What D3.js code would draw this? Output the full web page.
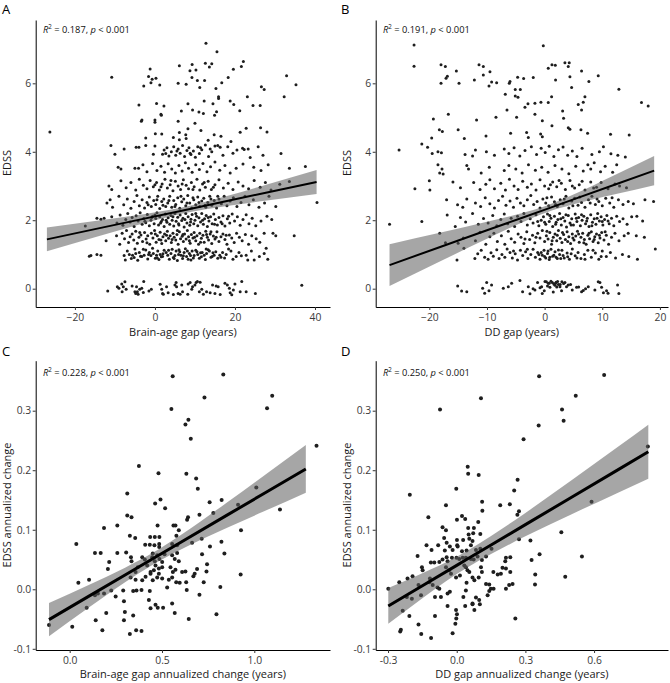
<!DOCTYPE html>
<html><head><meta charset="utf-8">
<script src="https://cdn.jsdelivr.net/npm/d3@7"></script>
<style>
html,body{margin:0;padding:0;background:#fff;}
svg{display:block;font-family:"Open Sans","Noto Sans",sans-serif;}
</style></head><body>
<svg id="chart" width="670" height="683"></svg>
<script>
// ---------- Panel A: Brain-age gap vs EDSS ----------
const pointsA = [
[-11.8,-0.07],[-9.4,0.06],[-9.0,0.01],[-8.3,0.14],[-7.9,0.06],[-7.5,0.2],[-7.2,-0.02],[-8.2,-0.09],[-5.7,0.08],[-4.6,0.06],[-5.0,-0.09],[-4.4,-0.09],[-4.8,-0.14],[-4.2,-0.16],[-3.8,-0.02],[-3.3,0.01],[-2.8,0.21],[-2.9,-0.11],[-1.5,-0.07],[-0.9,-0.02],[1.3,0.13],[1.7,-0.02],[1.9,-0.14],[2.1,-0.16],[2.9,0.06],[3.3,-0.12],[4.6,-0.17],[5.0,0.11],[5.3,0.18],[5.4,0.06],[5.8,-0.14],[6.3,-0.16],[6.7,0.11],[6.9,-0.09],[8.2,-0.16],[8.3,0.14],[8.8,0.18],[9.2,-0.02],[9.4,0.06],[10.0,0.11],[10.3,0.18],[10.6,0.21],[11.3,0.19],[11.7,-0.02],[11.1,-0.09],[12.1,-0.16],[12.9,-0.09],[13.8,-0.12],[14.4,0.11],[15.0,-0.14],[15.3,0.08],[15.8,0.06],[16.3,-0.17],[17.5,0.16],[18.1,0.11],[18.6,0.01],[18.8,-0.12],[19.2,-0.18],[19.6,-0.04],[20.0,0.14],[21.3,-0.09],[21.7,0.21],[22.8,-0.09],[25.1,-0.14],[36.7,0.1],
[-16.4,0.95],[-16.0,0.97],[-14.5,1.0],[-13.5,0.98],[-7.7,0.97],[-7.4,0.84],[-6.9,1.1],[-6.4,1.0],[-5.9,0.88],[-5.6,0.98],[-5.2,0.91],[-4.8,1.03],[-4.3,0.83],[-3.9,1.06],[-3.6,0.95],[-3.3,0.94],[-2.9,1.15],[-2.7,0.98],[-2.3,1.13],[-1.8,0.87],[-1.4,1.06],[-1.0,0.97],[-0.6,1.18],[-0.4,1.03],[0.1,0.89],[0.4,0.98],[0.7,1.1],[1.0,0.85],[1.3,1.0],[1.6,0.93],[1.9,0.94],[2.3,1.12],[2.8,1.06],[3.2,0.98],[3.6,0.86],[4.0,1.03],[4.3,1.15],[4.6,0.91],[5.0,0.97],[5.3,1.1],[5.6,0.82],[5.9,1.0],[6.2,1.08],[6.5,0.98],[6.9,0.88],[7.3,1.06],[7.6,1.17],[7.9,0.94],[8.3,0.86],[8.6,1.03],[8.9,0.97],[9.3,1.1],[9.6,0.9],[9.8,0.97],[10.2,1.12],[10.7,1.0],[11.1,0.89],[11.4,1.05],[11.8,1.06],[12.3,0.98],[12.6,0.85],[12.9,1.03],[13.3,1.14],[13.6,1.1],[14.0,0.92],[14.3,0.94],[14.8,0.98],[15.2,1.08],[15.7,0.89],[16.2,0.98],[16.9,1.06],[17.4,0.9],[17.8,1.0],[18.4,1.16],[19.0,1.1],[19.5,0.86],[20.3,0.94],[21.0,1.06],[21.6,0.96],[22.8,0.98],[23.2,0.84],[24.1,1.1],[24.8,0.84],[26.1,0.94],[27.3,1.03],[27.8,1.18],[28.2,0.86],
[0.6,0.9],[2.0,1.02],[3.4,1.12],[4.8,0.88],[6.0,1.14],[7.1,0.96],[8.1,1.1],[9.0,0.84],[10.5,1.08],[11.6,0.93],[12.8,1.16],[14.5,1.05],[16.5,0.92],[-1.6,1.0],[-5.0,1.16],
[-12.2,1.4],[-9.6,1.55],[-8.8,1.3],[-8.2,1.62],[-7.6,1.46],[-7.1,1.7],[-6.6,1.35],[-6.2,1.52],[-5.7,1.6],[-5.3,1.42],[-4.8,1.68],[-4.4,1.33],[-4.0,1.5],[-3.5,1.57],[-3.1,1.38],[-2.6,1.64],[-2.2,1.45],[-1.8,1.55],[-1.3,1.3],[-0.9,1.62],[-0.5,1.48],[-0.1,1.7],[0.3,1.36],[0.6,1.55],[1.0,1.44],[1.3,1.65],[1.7,1.32],[2.0,1.52],[2.4,1.6],[2.7,1.4],[3.1,1.68],[3.4,1.47],[3.8,1.55],[4.1,1.35],[4.5,1.62],[4.8,1.5],[5.2,1.42],[5.5,1.58],[5.8,1.3],[6.1,1.66],[6.4,1.46],[6.8,1.53],[7.1,1.38],[7.4,1.6],[7.8,1.45],[8.1,1.7],[8.4,1.52],[8.8,1.33],[9.1,1.58],[9.5,1.48],[9.8,1.64],[10.2,1.4],[10.5,1.55],[10.9,1.3],[11.2,1.62],[11.6,1.47],[12.0,1.56],[12.3,1.36],[12.7,1.68],[13.1,1.5],[13.4,1.42],[13.8,1.6],[14.2,1.32],[14.6,1.54],[15.0,1.45],[15.5,1.66],[16.0,1.38],[16.5,1.52],[17.0,1.6],[17.5,1.44],[18.0,1.3],[18.6,1.57],[19.2,1.48],[19.8,1.35],[20.4,1.62],[21.1,1.5],[21.8,1.4],[22.6,1.58],[23.4,1.3],[24.2,1.55],[25.3,1.46],[26.2,1.36],[27.3,1.62],[29.5,1.62],[30.2,1.55],[34.8,1.55],
[0.1,1.6],[1.5,1.42],[2.9,1.56],[4.3,1.44],[5.6,1.7],[7.0,1.58],[8.6,1.4],[9.9,1.5],[11.4,1.36],[12.9,1.58],[14.0,1.66],[15.3,1.5],[-2.0,1.34],[-3.8,1.64],[17.8,1.56],
[-17.4,1.83],[-14.5,2.06],[-13.5,2.03],[-12.7,2.06],[-10.8,2.1],[-9.5,1.92],[-8.7,2.15],[-8.0,1.85],[-7.3,2.02],[-6.8,2.2],[-6.2,1.95],[-5.7,2.08],[-5.2,1.82],[-4.7,2.13],[-4.2,1.98],[-3.7,2.22],[-3.2,1.88],[-2.8,2.05],[-2.3,1.93],[-1.9,2.17],[-1.4,1.84],[-1.0,2.0],[-0.6,2.12],[-0.2,1.9],[0.2,2.05],[0.5,2.22],[0.9,1.86],[1.2,2.1],[1.6,1.96],[1.9,2.02],[2.3,1.82],[2.6,2.18],[3.0,1.94],[3.3,2.07],[3.7,1.88],[4.0,2.14],[4.3,2.0],[4.7,1.83],[5.0,2.2],[5.3,1.97],[5.7,2.09],[6.0,1.86],[6.3,2.15],[6.7,1.99],[7.0,2.06],[7.3,1.8],[7.7,2.2],[8.0,1.92],[8.3,2.1],[8.7,1.85],[9.0,2.03],[9.3,2.17],[9.7,1.9],[10.0,2.0],[10.4,2.12],[10.7,1.84],[11.0,2.07],[11.4,1.95],[11.7,2.2],[12.1,1.88],[12.4,2.04],[12.8,2.14],[13.1,1.82],[13.5,1.98],[13.9,2.1],[14.3,1.9],[14.7,2.18],[15.1,2.02],[15.6,1.86],[16.0,2.08],[16.5,1.95],[17.0,2.13],[17.5,1.83],[18.1,2.04],[18.7,1.92],[19.3,2.18],[19.9,1.98],[20.6,2.1],[21.3,1.85],[22.0,2.02],[22.8,2.16],[23.5,1.9],[24.3,2.06],[25.2,1.84],[26.5,1.98],[28.0,2.12],[29.2,2.02],
[0.0,2.15],[1.4,1.92],[2.8,2.0],[4.5,2.1],[5.9,1.9],[7.5,2.02],[8.9,1.95],[10.2,2.2],[11.9,2.0],[13.3,2.08],[14.9,1.88],[-0.8,2.08],[-2.5,1.97],[16.8,1.9],[18.4,2.12],
[-12.0,2.5],[-11.2,2.6],[-10.6,2.38],[-9.0,2.7],[-7.8,2.45],[-6.9,2.62],[-6.0,2.35],[-5.2,2.55],[-4.5,2.72],[-3.9,2.42],[-3.2,2.6],[-2.6,2.36],[-2.0,2.52],[-1.4,2.68],[-0.9,2.4],[-0.3,2.58],[0.2,2.46],[0.7,2.7],[1.2,2.34],[1.7,2.55],[2.2,2.62],[2.7,2.4],[3.2,2.5],[3.7,2.7],[4.2,2.38],[4.7,2.58],[5.2,2.46],[5.7,2.66],[6.2,2.35],[6.7,2.54],[7.2,2.62],[7.7,2.42],[8.2,2.72],[8.7,2.5],[9.2,2.36],[9.7,2.6],[10.2,2.45],[10.7,2.68],[11.2,2.4],[11.7,2.56],[12.2,2.64],[12.7,2.38],[13.2,2.52],[13.7,2.7],[14.2,2.44],[14.8,2.58],[15.4,2.36],[16.0,2.62],[16.6,2.48],[17.3,2.7],[18.0,2.42],[18.8,2.56],[19.6,2.66],[20.5,2.4],[21.5,2.52],[22.5,2.7],[23.5,2.45],[24.6,2.6],[26.0,2.38],[27.4,2.5],[28.5,2.7],[30.2,2.4],[40.5,2.52],
[0.5,2.6],[2.0,2.44],[3.5,2.58],[5.0,2.4],[6.5,2.7],[8.0,2.5],[9.5,2.66],[11.0,2.52],[12.5,2.44],[14.0,2.62],[-1.7,2.45],[15.7,2.7],
[-11.5,3.0],[-10.8,2.9],[-8.5,3.15],[-7.2,2.95],[-6.0,3.1],[-4.8,2.88],[-3.9,3.2],[-2.9,3.02],[-2.0,2.92],[-1.2,3.16],[-0.4,2.98],[0.4,3.1],[1.1,2.88],[1.8,3.06],[2.5,3.2],[3.1,2.94],[3.8,3.04],[4.5,2.86],[5.1,3.14],[5.8,3.0],[6.4,2.9],[7.1,3.18],[7.8,3.02],[8.4,2.92],[9.1,3.1],[9.8,2.98],[10.5,3.2],[11.2,2.88],[11.9,3.06],[12.6,2.96],[13.3,3.14],[14.1,2.9],[15.0,3.04],[16.0,3.18],[17.1,2.94],[18.3,3.08],[19.5,2.9],[20.8,3.12],[22.0,3.0],[23.4,2.92],[24.8,3.16],[26.3,2.96],[27.6,3.1],[29.0,2.88],[31.2,3.05],[33.6,3.13],
[1.5,2.98],[4.0,3.16],[6.8,3.06],[9.5,2.9],[12.3,3.1],[0.0,3.04],[14.6,2.96],
[-9.2,3.55],[-8.5,3.5],[-5.0,3.52],[-4.1,3.52],[-3.0,3.62],[-2.0,3.42],[-0.6,3.66],[0.5,3.45],[1.5,3.58],[2.4,3.4],[3.3,3.65],[4.2,3.5],[5.1,3.38],[6.0,3.6],[6.8,3.44],[7.6,3.68],[8.4,3.52],[9.3,3.4],[10.2,3.62],[11.1,3.48],[12.0,3.66],[13.0,3.42],[13.9,3.56],[15.0,3.7],[16.2,3.46],[17.5,3.6],[18.8,3.38],[20.3,3.52],[22.0,3.64],[23.8,3.83],[24.7,3.55],[26.5,3.45],[28.3,3.62],[33.6,3.52],[37.6,3.57],
[-11.0,4.18],[-10.0,3.93],[-7.7,4.08],[-4.7,4.13],[-4.0,4.13],[-2.3,4.18],[-0.4,3.93],[0.0,4.17],[1.9,3.93],[2.3,4.05],[3.0,4.12],[3.5,3.88],[4.1,4.0],[4.7,4.15],[5.2,3.9],[5.8,4.08],[6.3,3.96],[6.9,4.18],[7.4,3.86],[8.0,4.04],[8.5,4.12],[9.0,3.92],[9.6,4.02],[10.1,3.84],[10.7,4.15],[11.1,3.95],[11.7,4.06],[12.6,4.2],[13.4,3.86],[14.2,4.0],[15.0,4.17],[15.7,4.18],[16.3,4.13],[17.0,3.9],[18.2,4.15],[19.5,3.96],[20.5,4.05],[21.9,4.1],[22.3,4.07],[23.3,4.08],[25.8,4.15],[27.0,3.9],[31.5,3.95],
[2.7,3.95],[5.5,4.02],[8.8,3.96],[11.4,4.12],[13.8,4.08],
[-26.25,4.58],[-3.4,4.89],[-3.25,4.93],[0.0,4.93],[0.0,4.86],[5.8,4.89],[10.0,4.83],[8.25,4.67],[22.8,4.69],[26.4,4.7],[28.0,4.58],[21.3,4.57],[14.8,4.5],[0.1,4.53],[1.7,4.52],[6.1,4.56],[7.7,4.5],[7.8,4.39],[-2.3,4.4],[4.6,4.42],[6.1,4.35],[13.3,4.34],[16.5,4.45],[19.0,4.3],[11.5,4.62],
[12.75,7.17],[15.5,6.92],[22.1,6.64],[21.6,6.49],[12.6,6.59],[14.2,6.57],[13.6,6.48],[9.3,6.55],[6.1,6.51],[8.75,6.37],[10.25,6.39],[-1.2,6.42],[-10.8,6.18],[-1.6,6.2],[-0.7,6.12],[0.25,6.15],[-2.8,5.92],[-1.0,6.02],[1.2,5.95],[9.25,6.17],[10.6,6.08],[12.4,6.08],[18.3,6.17],[19.6,6.41],[16.7,6.02],[5.8,6.0],[7.8,5.97],[11.2,5.88],[15.25,5.85],[15.9,5.61],[15.9,5.56],[32.9,6.22],[35.25,5.96],[26.6,5.9],[27.3,5.82],[32.3,5.61],[23.1,5.61],[18.8,5.48],[19.7,5.38],[12.3,5.48],[14.5,5.4],[24.5,5.35],[26.3,5.35],[21.2,5.2],[15.4,5.17],[11.0,5.16],[12.1,5.12],[9.4,5.22],[6.6,5.19],[8.25,5.4],[-4.0,5.37],[0.4,5.41],[2.25,5.34],[1.5,5.1],[1.6,5.07],[14.9,5.07]
];
const ciXA = [-27,-15,-5,6.7,18,28,40.4];
const fitA = [1.441,1.74,1.988,2.28,2.561,2.81,3.119];
const lowA = [1.091,1.504,1.84,2.19,2.416,2.578,2.769];
const highA = [1.791,1.976,2.136,2.37,2.706,3.042,3.469];
const xTicksA = [-20,0,20,40];
const xLabelsA = ["\u221220","0","20","40"];

// ---------- Panel B: DD gap vs EDSS ----------
const pointsB = [
[-15.08,0.08],[-14.4,-0.07],[-13.5,-0.09],[-10.75,0.01],[-10.05,0.18],[-10.4,-0.13],[-9.65,-0.06],[-9.2,0.11],[-7.17,0.01],[-6.3,0.06],[-5.72,0.16],[-4.28,0.24],[-3.82,-0.09],[-2.83,0.06],[-2.54,-0.15],[-1.68,-0.04],[-1.22,0.18],[-0.52,0.06],[-0.41,-0.14],[0.06,0.21],[-0.06,-0.06],[0.63,0.16],[0.92,0.04],[1.33,0.18],[1.79,0.1],[2.25,0.21],[2.66,0.06],[2.94,-0.06],[3.52,0.18],[4.1,0.11],[4.79,-0.04],[5.54,0.04],[6.41,-0.09],[7.1,0.0],[7.57,0.06],[8.72,-0.04],[9.59,0.18],[9.88,0.04],[10.74,-0.06],[12.65,0.11],[12.88,-0.14],[0.3,0.2],[0.8,0.16],[1.1,0.22],[1.6,0.14],[2.0,0.19],[2.4,0.12],[3.0,0.2],[3.3,0.15],[-0.8,0.03],[1.5,-0.1],[2.1,0.05],[-2.0,0.0],[4.5,0.12],[5.9,0.05],[6.7,-0.05],[10.2,-0.12],[11.0,-0.13],[9.3,0.2],
[0.5,0.08],[1.9,0.16],[2.7,0.12],[3.8,0.06],
[-15.2,0.84],[-14.0,1.18],[-12.1,0.88],[-11.6,1.02],[-11.0,1.12],[-10.4,0.92],[-9.8,0.86],[-9.3,1.05],[-8.9,0.95],[-8.3,1.14],[-7.9,0.88],[-7.4,1.0],[-6.9,0.92],[-6.5,1.16],[-6.0,1.06],[-5.6,0.9],[-5.1,1.02],[-4.7,0.84],[-4.2,1.12],[-3.8,0.97],[-3.3,1.08],[-2.9,0.88],[-2.4,1.0],[-2.0,1.15],[-1.6,0.92],[-1.2,1.06],[-0.8,0.86],[-0.4,0.98],[-0.1,1.12],[0.2,0.9],[0.5,1.03],[0.8,0.85],[1.1,1.15],[1.4,0.95],[1.8,1.08],[2.2,0.88],[2.6,1.0],[3.0,1.12],[3.4,0.9],[3.9,1.04],[4.3,0.86],[4.8,1.16],[5.3,0.96],[5.8,1.06],[6.3,0.88],[6.9,1.0],[7.5,1.12],[8.1,0.92],[8.8,1.04],[9.4,0.86],[10.0,1.1],[10.7,0.94],[11.4,1.06],[12.3,0.9],[13.5,1.0],[14.6,0.94],[16.1,0.86],[19.2,1.16],[-1.0,1.0],[0.0,0.94],[0.6,1.1],[1.6,0.98],[2.4,1.13],[3.2,0.97],[4.0,0.93],[-3.0,1.15],[2.0,0.92],[-5.4,1.1],[7.0,0.86],
[-0.6,1.06],[0.9,0.92],[2.8,0.88],[4.6,1.02],[5.6,0.9],[8.4,1.12],[9.8,0.94],
[-17.2,1.34],[-15.0,1.33],[-14.1,1.48],[-12.0,1.4],[-11.2,1.65],[-10.2,1.3],[-9.5,1.52],[-8.8,1.62],[-8.2,1.38],[-7.5,1.55],[-6.9,1.3],[-6.3,1.68],[-5.8,1.46],[-5.2,1.36],[-4.6,1.6],[-4.1,1.5],[-3.6,1.32],[-3.1,1.66],[-2.6,1.44],[-2.1,1.56],[-1.7,1.34],[-1.2,1.62],[-0.8,1.48],[-0.4,1.7],[0.0,1.38],[0.3,1.55],[0.6,1.45],[0.9,1.64],[1.2,1.3],[1.5,1.5],[1.8,1.6],[2.1,1.4],[2.4,1.7],[2.7,1.47],[3.0,1.35],[3.3,1.58],[3.6,1.44],[3.9,1.66],[4.2,1.52],[4.5,1.32],[4.8,1.6],[5.1,1.42],[5.4,1.54],[5.7,1.68],[6.0,1.36],[6.3,1.5],[6.6,1.62],[6.9,1.44],[7.2,1.3],[7.5,1.56],[7.8,1.46],[8.1,1.66],[8.4,1.38],[8.7,1.52],[9.0,1.6],[9.3,1.34],[9.6,1.48],[9.9,1.64],[10.3,1.42],[10.7,1.56],[11.1,1.3],[11.6,1.5],[12.2,1.62],[12.9,1.4],[13.8,1.55],[14.5,1.62],[15.9,1.55],[17.3,1.5],[-18.2,1.62],
[0.4,1.68],[1.3,1.4],[2.2,1.56],[3.1,1.64],[4.0,1.38],[4.9,1.48],[5.9,1.6],[6.8,1.34],[7.7,1.62],[8.6,1.44],[9.5,1.56],[10.5,1.66],[-1.5,1.5],[-3.4,1.45],
[-26.9,1.88],[-21.3,1.96],[-16.9,2.15],[-15.5,1.82],[-14.6,2.08],[-13.7,1.95],[-12.5,2.2],[-11.5,1.88],[-10.6,2.05],[-9.8,1.92],[-9.0,2.14],[-8.3,1.84],[-7.6,2.02],[-7.0,2.18],[-6.4,1.9],[-5.8,2.06],[-5.2,1.82],[-4.7,2.12],[-4.1,1.96],[-3.6,2.2],[-3.0,1.86],[-2.5,2.04],[-2.0,1.92],[-1.5,2.16],[-1.0,1.84],[-0.6,2.0],[-0.2,2.1],[0.2,1.88],[0.5,2.18],[0.8,1.96],[1.1,2.06],[1.4,1.82],[1.7,2.12],[2.0,1.94],[2.3,2.02],[2.6,2.2],[2.9,1.86],[3.2,2.08],[3.5,1.98],[3.8,1.8],[4.1,2.14],[4.4,1.92],[4.7,2.04],[5.0,1.86],[5.3,2.18],[5.6,1.96],[5.9,2.08],[6.2,1.84],[6.5,2.0],[6.8,2.12],[7.1,1.9],[7.4,2.06],[7.7,1.82],[8.0,2.16],[8.3,1.94],[8.6,2.04],[8.9,1.88],[9.2,2.2],[9.5,1.98],[9.8,2.1],[10.1,1.86],[10.4,2.02],[10.8,2.14],[11.2,1.9],[11.6,2.06],[12.0,1.84],[12.5,2.12],[13.0,1.96],[13.6,2.04],[14.3,1.88],[15.1,2.1],[16.0,2.12],[17.0,1.98],
[0.0,1.94],[0.9,2.14],[1.9,1.88],[2.8,2.04],[3.7,2.16],[4.6,1.86],[5.5,2.06],[6.4,2.16],[7.3,1.98],[8.2,1.84],[9.1,2.06],[10.0,1.96],[11.0,1.98],[-1.2,1.96],
[-17.0,2.6],[-15.1,2.45],[-14.2,2.38],[-13.5,2.62],[-12.0,2.5],[-11.1,2.4],[-10.3,2.66],[-9.5,2.48],[-8.7,2.36],[-8.0,2.58],[-7.3,2.7],[-6.7,2.44],[-6.0,2.56],[-5.4,2.38],[-4.8,2.64],[-4.2,2.5],[-3.6,2.42],[-3.0,2.6],[-2.4,2.72],[-1.9,2.46],[-1.3,2.55],[-0.8,2.36],[-0.3,2.62],[0.2,2.5],[0.7,2.42],[1.2,2.68],[1.7,2.54],[2.2,2.4],[2.7,2.6],[3.2,2.48],[3.7,2.7],[4.2,2.36],[4.7,2.56],[5.2,2.64],[5.8,2.44],[6.4,2.52],[7.0,2.38],[7.6,2.6],[8.2,2.7],[8.8,2.46],[9.4,2.55],[10.0,2.42],[10.6,2.64],[11.3,2.5],[12.0,2.38],[12.8,2.6],[13.6,2.46],[14.5,2.55],[15.4,2.48],[17.4,2.6],[18.9,2.55],
[0.4,2.66],[1.9,2.46],[3.4,2.62],[4.9,2.42],[6.1,2.68],[7.9,2.5],[9.1,2.62],[11.7,2.66],
[-22.5,2.92],[-20.0,3.15],[-19.9,2.88],[-15.9,3.12],[-14.6,2.95],[-12.3,3.1],[-11.2,2.9],[-10.2,3.05],[-9.5,3.18],[-8.7,2.92],[-7.6,3.08],[-6.8,2.88],[-6.1,3.2],[-5.3,3.0],[-4.6,2.9],[-3.8,3.14],[-3.0,2.96],[-2.3,3.06],[-1.5,2.88],[-0.8,3.18],[0.0,3.0],[0.7,2.92],[1.4,3.12],[2.1,2.98],[2.9,3.08],[3.6,2.9],[4.4,3.16],[5.2,2.94],[6.0,3.04],[7.0,2.88],[8.0,3.12],[9.0,2.96],[9.8,3.1],[11.0,2.92],[12.2,3.06],[13.0,3.0],[14.2,2.95],
[1.0,3.04],[2.5,3.16],[4.8,3.0],[6.5,3.14],[8.5,2.94],
[-18.2,3.38],[-17.8,3.5],[-18.5,3.62],[-17.6,3.35],[-13.2,3.5],[-13.5,3.6],[-11.0,3.38],[-9.6,3.55],[-7.0,3.45],[-6.2,3.6],[-5.0,3.5],[-3.9,3.38],[-2.8,3.62],[-1.6,3.46],[-0.5,3.55],[0.6,3.4],[1.8,3.6],[3.0,3.5],[4.2,3.36],[5.4,3.58],[6.7,3.44],[7.5,3.62],[8.0,3.5],[8.6,3.68],[9.7,3.42],[10.5,3.58],[11.8,3.4],[12.5,3.62],
[-25.25,4.05],[-21.3,4.23],[-20.3,4.13],[-19.5,3.95],[-18.5,4.0],[-17.9,3.97],[-13.8,3.92],[-12.5,3.88],[-12.0,4.05],[-10.1,4.0],[-8.7,3.9],[-7.0,4.08],[-6.2,3.95],[-5.3,4.12],[-4.3,3.88],[-3.4,4.04],[-2.3,4.15],[-1.4,3.92],[-0.6,4.1],[0.1,3.98],[0.8,4.16],[1.6,3.86],[2.4,4.06],[3.2,4.14],[4.0,3.9],[4.8,4.02],[5.6,3.86],[6.5,4.1],[8.2,3.92],[9.5,4.0],[10.2,4.15],[11.5,3.94],[12.7,3.9],[14.0,3.85],
[-15.0,4.64],[-0.4,4.91],[1.27,4.76],[4.1,4.7],[4.39,4.66],[-3.12,4.56],[-2.83,4.42],[-5.9,4.54],[-0.69,4.52],[-0.4,4.44],[6.3,4.64],[7.45,4.54],[11.43,4.51],[14.67,4.49],[-19.59,4.4],[-17.74,4.59],[-18.26,4.64],[-13.93,4.39],[-10.17,4.46],[-16.7,5.1],[-11.8,4.93],[-19.3,4.96],
[-22.65,7.12],[-22.65,6.5],[-0.23,7.1],[-17.97,6.54],[-17.22,6.49],[-15.31,6.36],[-16.87,6.21],[-17.1,6.15],[-17.97,6.0],[-14.85,6.0],[-12.19,6.1],[-10.63,6.24],[-11.38,6.54],[-10.63,6.49],[-9.48,6.34],[-9.65,5.92],[-9.19,6.04],[-8.32,6.02],[-6.13,6.0],[-6.01,6.05],[-4.68,6.18],[-3.64,6.14],[-5.09,5.82],[-4.22,5.82],[-5.09,5.63],[-6.82,5.68],[-4.62,5.59],[-1.97,6.17],[0.63,6.44],[1.27,6.54],[1.85,6.53],[1.9,6.1],[3.52,6.6],[4.27,6.6],[4.1,6.49],[4.39,6.19],[4.68,5.88],[6.41,6.36],[7.68,6.05],[9.3,6.22],[12.88,5.83],[16.8,5.44],[17.96,5.34],[1.21,5.61],[0.63,5.44],[-1.68,5.42],[-0.64,5.45],[-2.89,5.4],[-3.41,5.3],[-6.53,5.22],[-1.68,5.1],[-8.44,5.01],[-4.86,5.01],[3.12,5.19],[3.29,4.98],[5.83,5.38],[6.7,5.45],[6.99,5.61],[6.41,5.22]
];
const ciXB = [-26.9,-18,-10,-4,0.32,5,12,19];
const fitB = [0.69,1.225,1.706,2.067,2.326,2.608,3.028,3.449];
const lowB = [0.08,0.808,1.457,1.929,2.226,2.464,2.751,3.024];
const highB = [1.3,1.642,1.955,2.205,2.426,2.752,3.305,3.874];
const xTicksB = [-20,-10,0,10,20];
const xLabelsB = ["\u221220","\u221210","0","10","20"];
const yTicksAB = [0,2,4,6];
const yLabelsAB = ["0","2","4","6"];

// ---------- Panel C: Brain-age gap annualized change ----------
const pointsC = [
[0.558,0.358],[0.832,0.361],[0.730,0.322],[1.097,0.325],[1.069,0.304],[0.551,0.303],[0.643,0.285],[0.627,0.277],[0.656,0.253],[1.337,0.241],[0.481,0.195],[0.632,0.194],[0.685,0.186],[0.694,0.169],[1.011,0.171],[0.463,0.144],[0.492,0.151],[0.517,0.136],[0.758,0.146],[0.823,0.150],[0.912,0.142],[1.139,0.134],[0.375,0.207],
[0.312,0.161],[0.312,0.124],[0.335,0.121],[0.778,0.128],[0.703,0.125],[0.641,0.121],[0.636,0.117],[0.186,0.103],[0.258,0.107],[0.476,0.107],[0.562,0.107],[0.573,0.107],[0.591,0.099],[0.578,0.090],[0.036,0.076],[0.326,0.090],[0.355,0.086],[0.436,0.088],[0.461,0.088],[0.486,0.088],[0.409,0.075],[0.434,0.075],[0.459,0.074],[0.485,0.076],[0.485,0.071],[0.555,0.076],[0.582,0.074],[0.663,0.078],[0.715,0.085],[0.760,0.072],[0.822,0.080],
[0.137,0.061],[0.168,0.061],[0.258,0.061],[0.306,0.062],[0.332,0.054],[0.335,0.047],[0.393,0.054],[0.407,0.050],[0.447,0.054],[0.450,0.060],[0.461,0.047],[0.474,0.057],[0.486,0.051],[0.501,0.046],[0.514,0.059],[0.555,0.057],[0.569,0.051],[0.591,0.047],[0.582,0.061],[0.717,0.059],[0.838,0.060],[0.214,0.046],[0.207,0.034],[0.369,0.037],[0.357,0.029],[0.420,0.040],[0.438,0.029],[0.456,0.032],[0.465,0.040],[0.483,0.035],[0.501,0.037],[0.546,0.037],[0.559,0.029],[0.573,0.033],[0.609,0.029],[0.627,0.030],[0.690,0.034],[0.677,0.026],[0.741,0.030],[0.744,0.042],
[0.047,0.011],[0.105,0.016],[0.330,0.020],[0.357,0.016],[0.393,0.015],[0.411,0.021],[0.438,0.026],[0.450,0.015],[0.474,0.020],[0.483,0.026],[0.501,0.018],[0.537,0.016],[0.555,0.020],[0.577,0.012],[0.596,0.011],[0.631,0.012],[0.670,0.022],[0.726,0.012],[0.816,0.004],[0.153,-0.007],[0.186,-0.007],[0.137,-0.010],[0.225,-0.002],[0.290,-0.002],[0.249,-0.012],[0.344,-0.003],[0.362,-0.002],[0.389,-0.001],[0.434,-0.003],[0.429,-0.018],[0.528,0.003],[0.634,-0.001],[0.703,-0.009],
[0.294,-0.020],[0.092,-0.031],[0.465,-0.026],[0.438,-0.032],[0.477,-0.031],[0.506,-0.031],[0.555,-0.024],[0.569,-0.040],[0.344,-0.044],[0.198,-0.040],[0.299,-0.038],[0.141,-0.052],[0.294,-0.052],[0.645,-0.050],[0.795,-0.042],[-0.112,-0.060],[0.014,-0.063],[0.177,-0.069],[0.326,-0.075],[0.360,-0.069],[0.389,-0.070],[0.928,0.099],[0.926,0.025]
];
const ciXC = [-0.112,0.1,0.3,0.45,0.6,0.85,1.05,1.279];
const fitC = [-0.051,-0.0124,0.024,0.0513,0.0786,0.1241,0.1605,0.2022];
const lowC = [-0.079,-0.0316,0.0118,0.0413,0.0664,0.1028,0.1306,0.1622];
const highC = [-0.023,0.0068,0.0362,0.0613,0.0908,0.1454,0.1904,0.2422];
const xTicksC = [0,0.5,1];
const xLabelsC = ["0.0","0.5","1.0"];

// ---------- Panel D: DD gap annualized change ----------
const pointsD = [
[0.360,0.358],[0.644,0.360],[0.106,0.321],[-0.073,0.302],[0.46,0.302],[0.467,0.283],[0.52,0.325],[0.358,0.275],[0.292,0.252],[0.835,0.24],[0.589,0.147],[0.048,0.206],[0.547,0.055],
[0.050,0.194],[0.096,0.192],[0.266,0.184],[-0.205,0.159],[-0.002,0.169],[0.251,0.166],[-0.047,0.141],[0.111,0.147],[0.190,0.141],[0.232,0.143],[0.112,0.132],[0.272,0.131],[0.265,0.125],[-0.124,0.121],[0.001,0.117],[0.023,0.123],[0.037,0.118],[0.094,0.113],[0.075,0.103],[0.050,0.103],[-0.062,0.104],[-0.047,0.099],[0.072,0.094],[0.052,0.092],[0.103,0.093],[0.457,0.096],[0.272,0.084],[0.322,0.082],[0.362,0.059],
[-0.055,0.086],[-0.044,0.078],[0.001,0.083],[0.002,0.074],[0.028,0.083],[0.055,0.085],[0.069,0.081],[0.062,0.074],[-0.132,0.074],[-0.110,0.066],[-0.081,0.074],[-0.052,0.065],[-0.030,0.072],[-0.018,0.066],[0.004,0.072],[0.023,0.064],[0.043,0.065],[0.084,0.066],[0.103,0.068],[0.152,0.068],[-0.171,0.056],[-0.044,0.054],[-0.021,0.053],[-0.001,0.053],[0.011,0.051],[-0.113,0.045],[-0.098,0.045],[-0.076,0.046],[-0.062,0.050],[-0.040,0.047],[0.026,0.053],[0.040,0.053],[0.062,0.051],[0.074,0.050],[0.091,0.055],[0.110,0.049],[0.128,0.055],[0.215,0.053],[0.234,0.054],[0.212,0.047],[0.327,0.049],
[-0.152,0.037],[-0.149,0.032],[-0.193,0.022],[-0.215,0.018],[-0.251,0.012],[-0.299,0.001],[-0.117,0.018],[-0.047,0.037],[-0.033,0.032],[-0.025,0.026],[-0.003,0.020],[0.014,0.023],[0.033,0.040],[0.040,0.037],[0.047,0.032],[0.055,0.029],[0.069,0.020],[0.077,0.015],[0.043,0.011],[0.106,0.037],[0.110,0.029],[0.096,0.020],[0.128,0.009],[0.149,0.001],[0.142,0.008],[0.160,0.029],[0.179,0.025],[0.193,0.026],[0.200,0.036],[0.215,0.035],[0.234,0.029],[0.343,0.025],[0.342,0.008],[0.474,0.021],[0.215,0.001],[0.229,0.007],[0.244,0.009],
[-0.120,0.012],[-0.105,0.007],[-0.084,0.003],[-0.076,0.001],[-0.167,0.007],[-0.156,-0.010],[-0.196,-0.016],[-0.218,-0.013],[-0.095,-0.013],[-0.069,-0.013],[-0.040,-0.007],[-0.030,-0.004],[0.029,-0.013],[0.040,-0.002],[0.069,-0.024],[0.084,-0.014],[0.098,-0.018],[0.142,-0.003],[0.161,0.001],[0.135,-0.010],
[-0.236,-0.036],[-0.207,-0.045],[-0.095,-0.045],[-0.040,-0.028],[-0.003,-0.035],[0.001,-0.042],[-0.002,-0.049],[-0.006,-0.058],[0.037,-0.028],[0.069,-0.025],[0.077,-0.035],[0.101,-0.025],[0.256,-0.049],[-0.167,-0.059],[-0.244,-0.068],[-0.247,-0.071],[-0.155,-0.075],[-0.112,-0.082],[-0.018,-0.074]
];
const ciXD = [-0.299,-0.15,0,0.05,0.15,0.3,0.5,0.7,0.837];
const fitD = [-0.028,0.006,0.0402,0.0516,0.0744,0.1086,0.1542,0.1998,0.231];
const lowD = [-0.058,-0.015,0.0258,0.0375,0.0592,0.0889,0.1258,0.1615,0.1856];
const highD = [0.002,0.027,0.0546,0.0657,0.0896,0.1283,0.1826,0.2381,0.2764];
const xTicksD = [-0.3,0,0.3,0.6];
const xLabelsD = ["-0.3","0.0","0.3","0.6"];
const yTicksCD = [-0.1,0,0.1,0.2,0.3];
const yLabelsCD = ["-0.1","0.0","0.1","0.2","0.3"];

const r2Values = ["0.187","0.191","0.228","0.250"];

// ---------- drawing ----------
const svg = d3.select("#chart");
const FONT = '"Open Sans","Noto Sans",sans-serif';

function drawPanel(c){
  const g = svg.append("g");
  const x = d3.scaleLinear().domain(c.xDomain).range(c.xRange);
  const y = d3.scaleLinear().domain(c.yDomain).range(c.yRange);

  g.append("g").selectAll("circle").data(c.pts).join("circle")
    .attr("cx", d => x(d[0])).attr("cy", d => y(d[1]))
    .attr("r", c.r).attr("fill", "#1e1e1e");

  const band = c.ciX.map((v,i) => ({x:v, lo:c.lo[i], hi:c.hi[i], f:c.fit[i]}));
  g.append("path").datum(band)
    .attr("d", d3.area().curve(d3.curveMonotoneX).x(d => x(d.x)).y0(d => y(d.lo)).y1(d => y(d.hi)))
    .attr("fill", "#5c5c5c").attr("fill-opacity", 0.55);
  g.append("path").datum(band)
    .attr("d", d3.line().x(d => x(d.x)).y(d => y(d.f)))
    .attr("fill", "none").attr("stroke", "#000").attr("stroke-width", c.lw);

  const xa = d3.axisBottom(x).tickValues(c.xTicks).tickFormat((d,i) => c.xLabels[i])
    .tickSize(3).tickSizeOuter(0).tickPadding(c.xPad);
  const ya = d3.axisLeft(y).tickValues(c.yTicks).tickFormat((d,i) => c.yLabels[i])
    .tickSize(3).tickSizeOuter(0).tickPadding(1.5);
  const gx = g.append("g").attr("transform", `translate(0,${c.yRange[0]})`).call(xa);
  const gy = g.append("g").attr("transform", `translate(${c.xRange[0]},0)`).call(ya);
  [gx, gy].forEach(a => {
    a.attr("font-family", FONT).attr("font-size", 10.3);
    a.select(".domain").attr("stroke", "#000").attr("stroke-width", 1);
    a.selectAll(".tick line").attr("stroke", "#333").attr("stroke-width", 1);
    a.selectAll(".tick text").attr("fill", "#3a3a3a");
  });

  g.append("text").attr("x", (c.xRange[0] + c.xRange[1]) / 2).attr("y", c.xTitleY)
    .attr("text-anchor", "middle").attr("font-size", 11).attr("fill", "#1a1a1a").text(c.xTitle);
  g.append("text").attr("transform", `translate(${c.yTitleX},${c.yTitleC}) rotate(-90)`)
    .attr("text-anchor", "middle").attr("font-size", 11).attr("fill", "#1a1a1a").text(c.yTitle);

  g.append("text").attr("x", c.letterX).attr("y", c.letterY).attr("font-size", 13)
    .attr("fill", "#000").text(c.letter);

  const t = g.append("text").attr("x", c.annX).attr("y", c.annY).attr("font-size", 9.3).attr("fill", "#111");
  t.append("tspan").attr("font-style", "italic").text("R");
  t.append("tspan").attr("font-size", 6.2).attr("dy", -3.6).text("2");
  t.append("tspan").attr("dy", 3.6).text(` = ${c.r2}, `);
  t.append("tspan").attr("font-style", "italic").text("p");
  t.append("tspan").text(" < 0.001");
}

drawPanel({letter:"A", letterX:2, letterY:14, pts:pointsA, r:1.5, lw:2,
  xDomain:[-29.8,43.75], xRange:[35.7,330], yDomain:[-0.535,7.85], yRange:[307,20],
  xTicks:xTicksA, xLabels:xLabelsA, yTicks:yTicksAB, yLabels:yLabelsAB, xPad:3.8,
  ciX:ciXA, fit:fitA, lo:lowA, hi:highA, xTitle:"Brain-age gap (years)", yTitle:"EDSS",
  xTitleY:335.5, yTitleX:11, yTitleC:163, annX:43, annY:33, r2:r2Values[0]});
drawPanel({letter:"B", letterX:341, letterY:14, pts:pointsB, r:1.5, lw:2,
  xDomain:[-29.3,21.4], xRange:[375.7,668], yDomain:[-0.535,7.85], yRange:[307,20],
  xTicks:xTicksB, xLabels:xLabelsB, yTicks:yTicksAB, yLabels:yLabelsAB, xPad:3.8,
  ciX:ciXB, fit:fitB, lo:lowB, hi:highB, xTitle:"DD gap (years)", yTitle:"EDSS",
  xTitleY:335.5, yTitleX:351, yTitleC:163, annX:383, annY:33, r2:r2Values[1]});
drawPanel({letter:"C", letterX:2, letterY:356, pts:pointsC, r:2, lw:3,
  xDomain:[-0.184,1.41], xRange:[35.7,330], yDomain:[-0.102,0.384], yRange:[650,360.7],
  xTicks:xTicksC, xLabels:xLabelsC, yTicks:yTicksCD, yLabels:yLabelsCD, xPad:3.8,
  ciX:ciXC, fit:fitC, lo:lowC, hi:highC, xTitle:"Brain-age gap annualized change (years)", yTitle:"EDSS annualized change",
  xTitleY:678.3, yTitleX:11, yTitleC:505, annX:43, annY:376, r2:r2Values[2]});
drawPanel({letter:"D", letterX:341, letterY:356, pts:pointsD, r:2, lw:3,
  xDomain:[-0.354,0.923], xRange:[375.7,668], yDomain:[-0.102,0.384], yRange:[650,360.7],
  xTicks:xTicksD, xLabels:xLabelsD, yTicks:yTicksCD, yLabels:yLabelsCD, xPad:3.8,
  ciX:ciXD, fit:fitD, lo:lowD, hi:highD, xTitle:"DD gap annualized change (years)", yTitle:"EDSS annualized change",
  xTitleY:678.3, yTitleX:351, yTitleC:505, annX:383, annY:376, r2:r2Values[3]});
</script>
</body></html>
